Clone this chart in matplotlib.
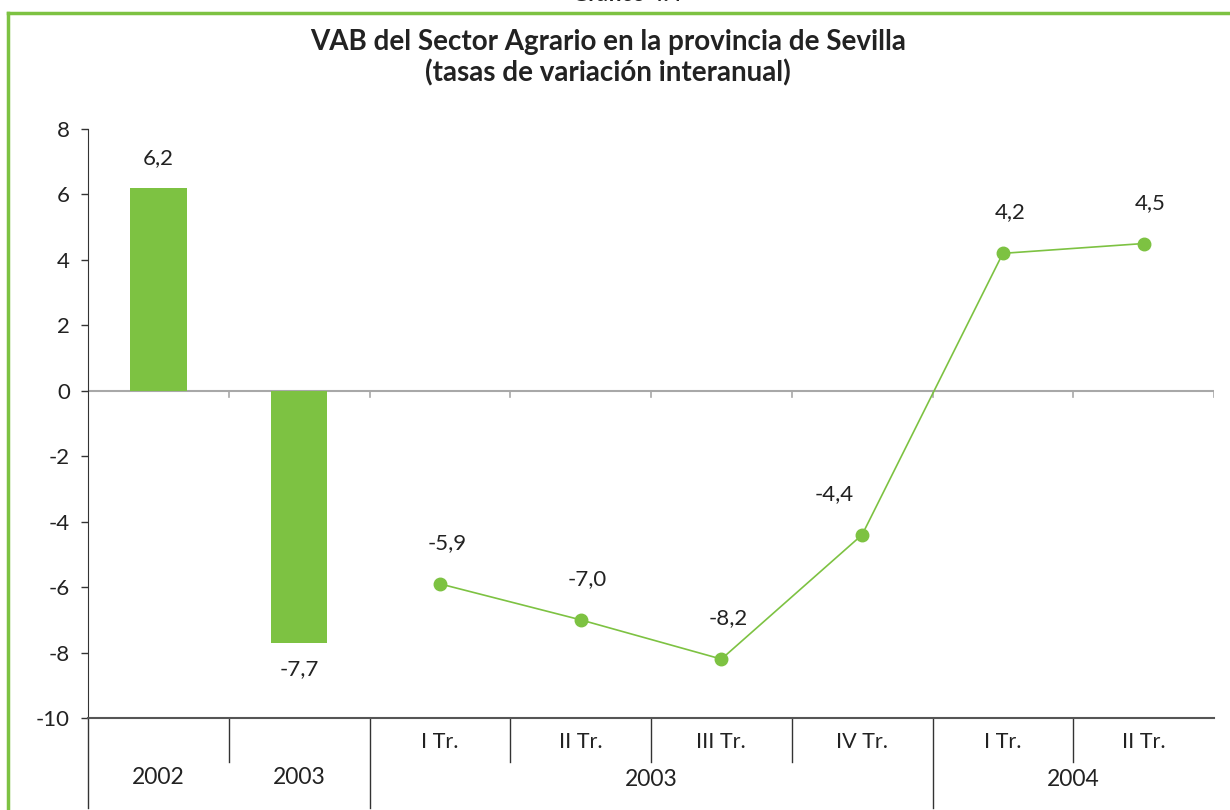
import matplotlib
matplotlib.use("Agg")
import matplotlib.pyplot as plt
import matplotlib.transforms as mtransforms

plt.rcParams['font.family'] = ['Lato', 'DejaVu Sans']

# annual bars
bar_labels = ["2002", "2003"]
bar_values = [6.2, -7.7]

# quarterly line
quarter_labels = ["I Tr.", "II Tr.", "III Tr.", "IV Tr.", "I Tr.", "II Tr."]
quarter_values = [-5.9, -7.0, -8.2, -4.4, 4.2, 4.5]

# second row of the category axis: (label, first index, last index)
year_groups = [("2003", 2, 5), ("2004", 6, 7)]

green = "#7dc242"

fig = plt.figure(figsize=(12.3, 8.1), dpi=100)
ax = fig.add_axes([88 / 1230, 1 - 718 / 810, (1214 - 88) / 1230, (718 - 129) / 810])

bar_x = list(range(len(bar_values)))
line_x = [len(bar_values) + i for i in range(len(quarter_values))]
n = len(bar_x) + len(line_x)

ax.bar(bar_x, bar_values, width=0.4, color=green, zorder=3)
ax.plot(line_x, quarter_values, color=green, lw=1.2, marker="o", ms=9, zorder=3)

# value labels
for x, v in zip(bar_x, bar_values):
    off = 0.9 if v > 0 else -0.8
    ax.text(x, v + off, f"{v:.1f}".replace(".", ","), ha="center",
            va="center", fontsize=16, color="#222222")
for x, v in zip(line_x, quarter_values):
    dx = -0.2 if v == -4.4 else 0.05
    ax.text(x + dx, v + 1.25, f"{v:.1f}".replace(".", ","), ha="center",
            va="center", fontsize=16, color="#222222")

ax.set_xlim(-0.5, n - 0.5)
ax.set_ylim(-10, 8)
ax.set_yticks(range(-10, 9, 2))
ax.set_yticklabels([str(t) for t in range(-10, 9, 2)], fontsize=16, color="#222222")
ax.tick_params(axis="y", length=5, width=1, color="#333333", pad=8)
ax.set_xticks([])

for s in ["top", "right"]:
    ax.spines[s].set_visible(False)
ax.spines["left"].set_color("#333333")
ax.spines["bottom"].set_color("#555555")
ax.spines["bottom"].set_linewidth(1.5)

# zero line with small ticks at category boundaries
ax.axhline(0, color="#a8a8a8", lw=1.5, zorder=2)
for b in range(n):
    ax.plot([b + 0.5, b + 0.5], [0, -0.18], color="#a8a8a8", lw=1.2, zorder=2)

# category table below the axis
trans = mtransforms.blended_transform_factory(ax.transData, ax.transAxes)
row1 = -44 / 589
row2 = -90 / 589
for b in range(n - 1):
    x = b + 0.5
    bottom = row2 if b in (1, 5) else row1
    ax.plot([x, x], [0, bottom], color="#333333", lw=1, transform=trans, clip_on=False)
ax.plot([-0.5, -0.5], [0, row2], color="#333333", lw=1, transform=trans, clip_on=False)

for x, lab in zip(line_x, quarter_labels):
    ax.text(x, -24 / 589, lab, transform=trans, ha="center", va="center",
            fontsize=15.5, color="#222222")
for x, lab in zip(bar_x, bar_labels):
    ax.text(x, -60 / 589, lab, transform=trans, ha="center", va="center",
            fontsize=16.5, color="#222222")
for lab, a, b in year_groups:
    ax.text((a + b) / 2, -62 / 589, lab, transform=trans, ha="center", va="center",
            fontsize=16.5, color="#222222")

# title
fig.text(608 / 1230, 1 - 42 / 810, "VAB del Sector Agrario en la provincia de Sevilla",
         ha="center", va="center", fontsize=20, fontweight="bold", color="#222222")
fig.text(608 / 1230, 1 - 73 / 810, "(tasas de variación interanual)",
         ha="center", va="center", fontsize=20, fontweight="bold", color="#222222")
fig.text(627 / 1230, 1 + 6 / 810, "Gráfico 4.4", ha="center", va="center",
         fontsize=16, fontweight="bold", color="#222222")

# green frame
fig.add_artist(plt.Line2D([8 / 1230, 1], [1 - 13 / 810, 1 - 13 / 810], color=green, lw=2.5))
fig.add_artist(plt.Line2D([8 / 1230, 8 / 1230], [0, 1 - 13 / 810], color=green, lw=2.5))

plt.savefig("out.png", dpi=100)
